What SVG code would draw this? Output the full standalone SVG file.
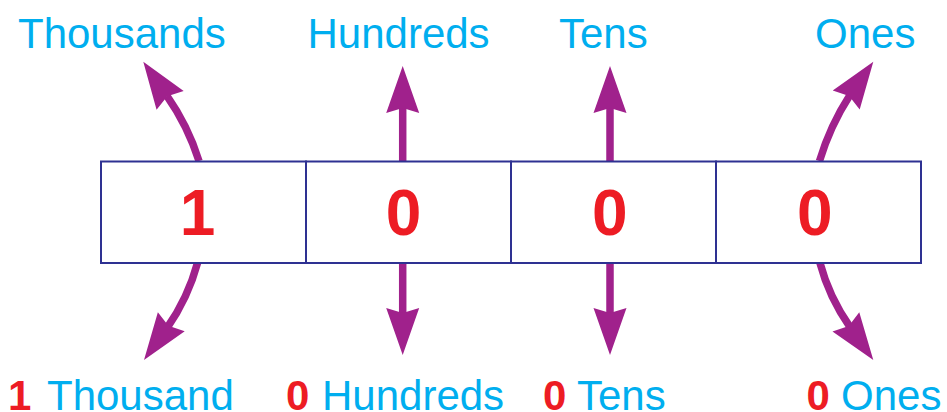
<svg xmlns="http://www.w3.org/2000/svg" xmlns:xlink="http://www.w3.org/1999/xlink" width="947" height="412" viewBox="0 0 947 412">
<style>
.cell{fill:#ffffff;stroke:#2e3192;stroke-width:2}
.digit{font-family:"Liberation Sans",Arial,sans-serif;font-weight:bold;font-size:64px;fill:#ed1c24;text-anchor:middle}
.lbl{font-family:"Liberation Sans",Arial,sans-serif;font-size:42px;fill:#00aeef}
.num{font-weight:bold;fill:#ed1c24}
.shaft{fill:none;stroke:#a0218c;stroke-width:7.5}
.head{fill:#a0218c}
</style>
<defs>
<polygon id="ah" class="head" points="0,0 16.5,47 0,42 -16.5,47"/>
</defs>
<rect width="947" height="412" fill="#ffffff"/>
<g id="connectors">
<path class="shaft" d="M199,161 Q188,126 167,96"/>
<use xlink:href="#ah" transform="translate(143.3,61.7) rotate(-34.8)"/>
<path class="shaft" d="M402.7,161 L402.7,106"/>
<use xlink:href="#ah" transform="translate(402.7,66)"/>
<path class="shaft" d="M610,161 L610,106"/>
<use xlink:href="#ah" transform="translate(610,66)"/>
<path class="shaft" d="M819.5,161 Q830,126 850,95"/>
<use xlink:href="#ah" transform="translate(873.3,61.7) rotate(35.2)"/>
<path class="shaft" d="M197.5,263 Q188,298 167,328"/>
<use xlink:href="#ah" transform="translate(144,360) rotate(-144.5)"/>
<path class="shaft" d="M402.7,263 L402.7,315"/>
<use xlink:href="#ah" transform="translate(402.7,355) rotate(180)"/>
<path class="shaft" d="M610,263 L610,315"/>
<use xlink:href="#ah" transform="translate(610,355) rotate(180)"/>
<path class="shaft" d="M820,263 Q829,297 850,327"/>
<use xlink:href="#ah" transform="translate(873.3,360) rotate(144.3)"/>
</g>
<g id="thousands">
<rect class="cell" x="101" y="161.5" width="205" height="101.5"/>
<text class="digit" x="197.5" y="235">1</text>
<text class="lbl" x="18" y="47.5">Thousands</text>
<text class="lbl" y="409.5"><tspan class="num" x="8">1</tspan><tspan x="47">Thousand</tspan></text>
</g>
<g id="hundreds">
<rect class="cell" x="306" y="161.5" width="205" height="101.5"/>
<text class="digit" x="403.5" y="235">0</text>
<text class="lbl" x="307.5" y="47.5">Hundreds</text>
<text class="lbl" y="409.5"><tspan class="num" x="286">0</tspan><tspan x="322">Hundreds</tspan></text>
</g>
<g id="tens">
<rect class="cell" x="511" y="161.5" width="205" height="101.5"/>
<text class="digit" x="609.7" y="235">0</text>
<text class="lbl" x="559" y="47.5">Tens</text>
<text class="lbl" y="409.5"><tspan class="num" x="543">0</tspan><tspan x="577">Tens</tspan></text>
</g>
<g id="ones">
<rect class="cell" x="716" y="161.5" width="205" height="101.5"/>
<text class="digit" x="814.7" y="235">0</text>
<text class="lbl" x="815" y="47.5">Ones</text>
<text class="lbl" y="409.5"><tspan class="num" x="806.5">0</tspan><tspan x="841">Ones</tspan></text>
</g>
</svg>
